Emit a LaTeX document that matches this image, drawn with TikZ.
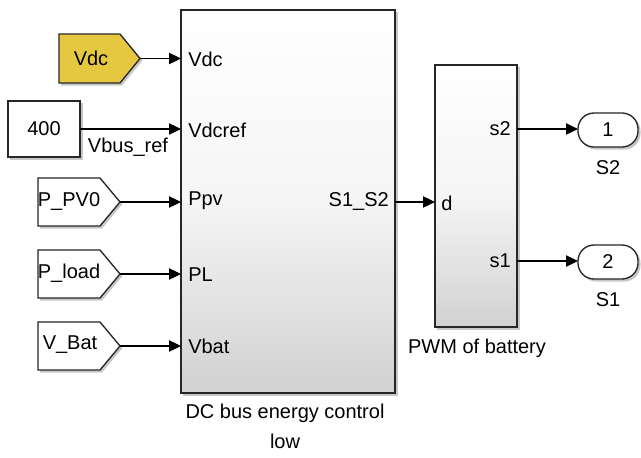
\documentclass[tikz,border=0pt]{standalone}
\usepackage{fontspec}
\setmainfont{Liberation Sans}
\usetikzlibrary{arrows.meta}
\definecolor{tagyellow}{RGB}{230,200,64}
\begin{document}
\begin{tikzpicture}[x=0.75pt,y=-0.75pt,
  font=\fontsize{15}{17}\selectfont,
  blockbox/.style={draw=black!85, line width=1pt, top color=white, bottom color=black!18, middle color=black!4, inner sep=0pt, outer sep=0pt},
  plainbox/.style={draw=black!85, line width=1pt, fill=white, inner sep=0pt, outer sep=0pt},
  tagbox/.style={draw=black!85, line width=1pt, fill=white},
  shadowfill/.style={fill=black!22},
  wire/.style={line width=0.9pt, -{Triangle[length=9pt,width=8.5pt]}},
  portlbl/.style={inner sep=0pt}]
\useasboundingbox (0,0) rectangle (641,457);

% shadows
\fill[shadowfill] (183,12) rectangle (397.5,395.5);
\fill[shadowfill] (437,67) rectangle (519.5,329.5);
\fill[shadowfill] (10,103) rectangle (82.5,159.5);
\fill[shadowfill] (61,36) -- (122,36) -- (142.5,60.5) -- (122,85.5) -- (61,85.5) -- cycle;
\fill[shadowfill] (40,180) -- (102,180) -- (122.5,204) -- (102,228.5) -- (40,228.5) -- cycle;
\fill[shadowfill] (40,252) -- (102,252) -- (122.5,276) -- (102,300.5) -- (40,300.5) -- cycle;
\fill[shadowfill] (40,324) -- (102,324) -- (122.5,348) -- (102,372.5) -- (40,372.5) -- cycle;
\fill[shadowfill, rounded corners=12pt] (580,115) rectangle (640.5,149.5);
\fill[shadowfill, rounded corners=12pt] (580,247) rectangle (640.5,281.5);

% main block
\node[blockbox, minimum width=160.5pt, minimum height=287.25pt] (dcb) at (288,201.5) {};
\node[anchor=base] (dcbl1) at (285,418) {DC bus energy control};
\node[anchor=base] (dcbl2) at (285,448) {low};
\node[portlbl, anchor=west] (pvdc) at (188,59) {Vdc};
\node[portlbl, anchor=west] (pvdcref) at (188,130) {Vdcref};
\node[portlbl, anchor=west] (pppv) at (188,201) {Ppv};
\node[portlbl, anchor=west] (ppl) at (188,275) {PL};
\node[portlbl, anchor=west] (pvbat) at (188,346) {Vbat};
\node[portlbl, anchor=east] (ps1s2) at (389,201) {S1\_S2};
\coordinate (in1) at (181,58.5);
\coordinate (in2) at (181,129);
\coordinate (in3) at (181,202);
\coordinate (in4) at (181,274);
\coordinate (in5) at (181,346);
\coordinate (out1) at (395,202);

% PWM block
\node[blockbox, minimum width=61.5pt, minimum height=196.5pt] (pwm) at (476,196) {};
\node[anchor=base] (pwml) at (477,353) {PWM of battery};
\node[portlbl, anchor=west] (pd) at (441,203) {d};
\node[portlbl, anchor=east] (ps2) at (511,129) {s2};
\node[portlbl, anchor=east] (ps1) at (511,261) {s1};
\coordinate (pwmin) at (435,202);
\coordinate (pwms2) at (517,129);
\coordinate (pwms1) at (517,261);

% source tags
\draw[tagbox, fill=tagyellow] (59,34) -- (120,34) -- (140,58.5) -- (120,83) -- (59,83) -- cycle;
\node (vdc) at (91,58.5) {Vdc};
\coordinate (vdctip) at (140,58.5);

\node[plainbox, minimum width=54pt, minimum height=42pt] (const) at (44,129) {400};
\node (vbusref) at (128,147) {Vbus\_ref};

\draw[tagbox] (38,178) -- (100,178) -- (120,202) -- (100,226) -- (38,226) -- cycle;
\node (ppv0) at (69,201) {P\_PV0};
\coordinate (ppv0tip) at (120,202);
\draw[tagbox] (38,250) -- (100,250) -- (120,274) -- (100,298) -- (38,298) -- cycle;
\node (pload) at (69,273) {P\_load};
\coordinate (ploadtip) at (120,274);
\draw[tagbox] (38,322) -- (100,322) -- (120,346) -- (100,370) -- (38,370) -- cycle;
\node (vbatt) at (70,345) {V\_Bat};
\coordinate (vbattip) at (120,346);

% outports
\node[plainbox, rounded corners=12pt, minimum width=45pt, minimum height=25.5pt] (o1) at (608,130) {1};
\node (o1l) at (608,168) {S2};
\node[plainbox, rounded corners=12pt, minimum width=45pt, minimum height=25.5pt] (o2) at (608,262) {2};
\node (o2l) at (608,300) {S1};

% wires
\draw[wire] (vdctip) -- (in1);
\draw[wire] (const.east |- in2) -- (in2);
\draw[wire] (ppv0tip) -- (in3);
\draw[wire] (ploadtip) -- (in4);
\draw[wire] (vbattip) -- (in5);
\draw[wire] (out1) -- (pwmin);
\draw[wire] (pwms2) -- (o1.west |- pwms2);
\draw[wire] (pwms1) -- (o2.west |- pwms1);
\end{tikzpicture}
\end{document}
